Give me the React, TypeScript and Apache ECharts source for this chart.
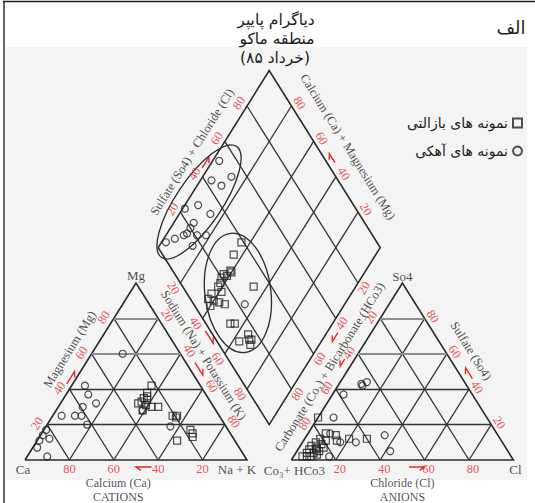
import React, { useEffect, useRef } from 'react';
import * as echarts from 'echarts';

const WIDTH = 535;
const HEIGHT = 503;
// layout of the ternary unit system on the page
const ORIGIN_X = 25;
const ORIGIN_Y = 460;
const SCALE_X = 2.22;
const SCALE_Y = 1.77;
const GAP = 20;

const BASALT = 'نمونه های بازالتی';
const LIMESTONE = 'نمونه های آهکی';
const TICKS = [20, 40, 60, 80];

// Cation triangle samples: [Ca, Mg, Na+K] %
const basaltCations = [
  [22, 42, 36], [26, 38, 36], [27, 36, 37], [29, 35, 36], [28, 34, 38], [31, 33, 36],
  [33, 32, 35], [30, 31, 39], [28, 30, 42], [25, 30, 45], [33, 28, 39], [21, 25, 54],
  [19, 25, 56], [20, 24, 56], [17, 17, 66], [17, 15, 68], [18, 13, 69], [26, 11, 63],
];
const limestoneCations = [
  [26, 60, 14], [52, 42, 6], [53, 37, 10], [52, 32, 16], [59, 30, 11], [71, 25, 4],
  [65, 25, 10], [62, 25, 13], [62, 20, 18], [82, 17, 1], [85, 14, 1], [83, 12, 5],
  [88, 11, 1], [91, 7, 2], [89, 2, 9], [25, 19, 56], [33, 28, 39],
];
// Anion triangle samples: [CO3+HCO3, SO4, Cl] %
const basaltAnions = [
  [76, 24, 0], [68, 12, 20], [60, 12, 28], [77, 15, 8], [73, 14, 13], [81, 12, 7],
  [79, 11, 10], [84, 10, 6], [82, 9, 9], [87, 8, 5], [85, 7, 8], [82, 7, 11],
  [89, 6, 5], [86, 6, 8], [85, 5, 10], [91, 4, 5], [88, 4, 8], [87, 3, 10],
  [92, 2, 6], [90, 2, 8], [94, 2, 4], [74, 11, 15],
];
const limestoneAnions = [
  [47, 43, 10], [47, 42, 11], [44, 44, 12], [58, 37, 5], [69, 24, 7], [51, 14, 35],
  [53, 5, 42], [66, 10, 24], [75, 15, 10], [82, 2, 16], [73, 10, 17],
];
// Diamond samples: [Na+K, SO4+Cl] %
const basaltDiamond = [
  [36, 39], [36, 32], [39, 26], [40, 26], [39, 23], [37, 22], [37, 20], [38, 18],
  [38, 16], [41, 16], [37, 11], [37, 8], [40, 10], [43, 12], [46, 14], [40, 7],
  [54, 32], [54, 11], [56, 13], [65, 16], [67, 15], [69, 14], [63, 10], [68, 16],
];
const limestoneDiamond = [
  [3, 52], [13, 53], [5, 43], [11, 46], [6, 30], [1, 23], [14, 33], [9, 23],
  [9, 20], [9, 17], [14, 21], [18, 25], [5, 10], [2, 5], [15, 16], [8, 15], [55, 23],
];

const RED = '#e8262b';
const INK = '#1c1c1c';
const SERIF = '"Liberation Serif", "DejaVu Serif", serif';
const PERSIAN = '"DejaVu Sans", sans-serif';

const cat = (ca: number, mg: number, na: number) => [na + mg / 2, mg];
const an = (co3: number, so4: number, cl: number) => [100 + GAP + cl + so4 / 2, so4];
const dia = (na: number, sc: number) => [(100 + GAP + sc + na) / 2, 100 + GAP + sc - na];
const off = (p: number[], dx: number, dy: number) => [p[0] + dx / SCALE_X, p[1] - dy / SCALE_Y];

type F = (a: number, b: number, c: number) => number[];
function triOutline(f: F) {
  return [f(100, 0, 0), f(0, 0, 100), f(0, 100, 0), f(100, 0, 0)];
}
function triGrid(f: F, light: boolean) {
  const segs: number[][][] = [];
  TICKS.forEach((v) => {
    const isLight = v >= 60;
    if (isLight === light) segs.push([f(100 - v, v, 0), f(0, v, 100 - v)]);
    if (!light) {
      segs.push([f(100 - v, 0, v), f(0, 100 - v, v)]);
      segs.push([f(v, 0, 100 - v), f(v, 100 - v, 0)]);
    }
  });
  return segs;
}
function diamondGrid() {
  const segs: number[][][] = [];
  TICKS.forEach((v) => {
    segs.push([dia(v, 0), dia(v, 100)]);
    segs.push([dia(0, v), dia(100, v)]);
  });
  return segs;
}
function harpoon(tail: number[], tip: number[], side = 1) {
  const dx = (tail[0] - tip[0]) * SCALE_X;
  const dy = -(tail[1] - tip[1]) * SCALE_Y;
  const len = Math.hypot(dx, dy);
  const ux = dx / len, uy = dy / len;
  const a = side * 0.6;
  const bx = (ux * Math.cos(a) - uy * Math.sin(a)) * 6;
  const by = (ux * Math.sin(a) + uy * Math.cos(a)) * 6;
  return [[tip[0] + bx / SCALE_X, tip[1] - by / SCALE_Y], tip, tail];
}

const arrows = [
  harpoon(off(cat(43, 0, 57), 0, 7), off(cat(50, 0, 50), 0, 7), 1),
  harpoon(off(cat(57, 43, 0), -6, 0), off(cat(50, 50, 0), -6, 0), -1),
  harpoon(off(cat(0, 55, 45), 9, 0), off(cat(0, 48, 52), 9, 0), 1),
  harpoon(off(dia(47, 0), -5, 0), off(dia(54, 0), -5, 0), 1),
  harpoon(off(dia(0, 45), -6, 0), off(dia(0, 51), -6, 0), -1),
  harpoon(off(dia(52, 100), 8, 0), off(dia(47, 100), 8, 0), 1),
  harpoon(off(dia(100, 52), 11, 0), off(dia(100, 47), 11, 0), -1),
  harpoon(off(an(43, 57, 0), -10, 0), off(an(47, 53, 0), -10, 0), -1),
  harpoon(off(an(0, 46, 54), 10, 0), off(an(0, 52, 48), 10, 0), 1),
  harpoon(off(an(47, 0, 53), 0, 7), off(an(40, 0, 60), 0, 7), -1),
];

function textItem(p: number[], text: string, o: any = {}) {
  return {
    value: p,
    label: {
      show: true,
      position: 'inside',
      formatter: text,
      color: o.color ?? INK,
      fontSize: o.size ?? 12.5,
      fontFamily: SERIF,
      rotate: o.rotate ?? 0,
    },
  };
}

function buildLabels() {
  const items: any[] = [];
  TICKS.forEach((v) => {
    const t = String(v);
    items.push(textItem(off(cat(v, 0, 100 - v), 0, 9), t, { color: RED }));
    items.push(textItem(off(cat(100 - v, v, 0), -10, -1), t, { color: RED, rotate: 58 }));
    items.push(textItem(off(cat(0, 100 - v, v), 9, -3), t, { color: RED, rotate: -58 }));
    items.push(textItem(off(dia(v, 0), -7, 5), t, { color: RED, rotate: -58 }));
    items.push(textItem(off(dia(0, v), -8, -3), t, { color: RED, rotate: 58 }));
    items.push(textItem(off(dia(100 - v, 100), 8, -3), t, { color: RED, rotate: -58 }));
    items.push(textItem(off(dia(100, 100 - v), 6, 5), t, { color: RED, rotate: 58 }));
    items.push(textItem(off(an(v, 100 - v, 0), -9, -1), t, { color: RED, rotate: 58 }));
    items.push(textItem(off(an(0, v, 100 - v), 8, -2), t, { color: RED, rotate: -58 }));
    items.push(textItem(off(an(100 - v, 0, v), 4, 9), t, { color: RED }));
  });
  items.push(textItem(off(cat(0, 100, 0), 0, -8), 'Mg', { size: 13 }));
  items.push(textItem(off(cat(100, 0, 0), -2, 9), 'Ca', { size: 13 }));
  items.push(textItem(off(cat(0, 0, 100), -10, 9), 'Na + K', { size: 13 }));
  items.push(textItem(off(an(0, 100, 0), 0, -7), 'So4', { size: 13 }));
  items.push(textItem(off(an(100, 0, 0), 3, 10), 'Co₃+ HCo3', { size: 13 }));
  items.push(textItem(off(an(0, 0, 100), 2, 9), 'Cl', { size: 13 }));
  items.push(textItem(off(cat(58, 0, 42), 0, 23), 'Calcium (Ca)', { size: 12 }));
  items.push(textItem(off(cat(58, 0, 42), 0, 36.5), 'CATIONS', { size: 12 }));
  items.push(textItem(off(an(50, 0, 50), 0, 23), 'Chloride (Cl)', { size: 12 }));
  items.push(textItem(off(an(50, 0, 50), 0, 36.5), 'ANIONS', { size: 12 }));
  items.push(textItem(off(cat(38, 62, 0), -24, -1), 'Magnesium (Mg)', { size: 12.5, rotate: 58 }));
  items.push(textItem(off(cat(0, 58, 42), 21, -2), 'Sodium (Na) + Potassium (K)', { size: 12.5, rotate: -58 }));
  items.push(textItem(off(dia(0, 54), -26, 0), 'Sulfate (So4) + Chloride (Cl)', { size: 12.5, rotate: 58 }));
  items.push(textItem(off(dia(43, 100), 31, 0), 'Calcium (Ca) + Magnesium (Mg)', { size: 12.5, rotate: -58 }));
  items.push(textItem(off(an(47.5, 52.5, 0), -20, 0), 'Carbonate (Co₃) + Bicarbonate (HCo3)', { size: 12.5, rotate: 58 }));
  items.push(textItem(off(an(0, 61.6, 38.4), 26, 0), 'Sulfate (So4)', { size: 12.5, rotate: -58 }));
  return items;
}

const ellipses = [
  { center: [5.5, 31.3], rx: 67, ry: 23, rotationDeg: 56 },
  { center: [48.7, 23.1], rx: 33, ry: 60, rotationDeg: 7 },
];

function markerSeries(name: string, symbol: string, data: number[][]) {
  return {
    type: 'scatter',
    name,
    symbol,
    symbolSize: 7,
    silent: true,
    clip: false,
    itemStyle: { color: 'rgba(0,0,0,0)', borderColor: '#222', borderWidth: 1.2 },
    data,
    z: 4,
  };
}

export default function App() {
  const ref = useRef<HTMLDivElement>(null);
  useEffect(() => {
    const chart = echarts.init(ref.current!, null, { renderer: 'svg' });
    const lineSeries = (data: number[][][], color: string, width: number, polyline = false) => ({
      type: 'lines',
      coordinateSystem: 'cartesian2d',
      polyline,
      silent: true,
      lineStyle: { color, width, opacity: 1 },
      data: data.map((coords) => ({ coords })),
      z: 2,
    });
    const option: any = {
      animation: false,
      backgroundColor: '#ffffff',
      grid: { left: 0, top: 0, right: 0, bottom: 0 },
      xAxis: { type: 'value', min: -ORIGIN_X / SCALE_X, max: (WIDTH - ORIGIN_X) / SCALE_X, show: false },
      yAxis: { type: 'value', min: -(HEIGHT - ORIGIN_Y) / SCALE_Y, max: ORIGIN_Y / SCALE_Y, show: false },
      legend: {
        orient: 'vertical',
        right: 7,
        top: 111,
        align: 'right',
        itemWidth: 9,
        itemHeight: 9,
        itemGap: 14,
        selectedMode: false,
        textStyle: { fontFamily: PERSIAN, fontSize: 14, color: INK },
        data: [{ name: BASALT, icon: 'rect' }, { name: LIMESTONE, icon: 'circle' }],
      },
      series: [
        lineSeries([triOutline(cat), triOutline(an), [dia(0, 0), dia(100, 0), dia(100, 100), dia(0, 100), dia(0, 0)]], '#2a2a2a', 1.6, true),
        lineSeries([...triGrid(cat, false), ...triGrid(an, false), ...diamondGrid()], '#333333', 1.3),
        lineSeries([...triGrid(cat, true), ...triGrid(an, true)], '#8f8f8f', 1.8),
        lineSeries(arrows, RED, 1.4, true),
        markerSeries(BASALT, 'rect', basaltCations.map((r) => cat(r[0], r[1], r[2]))),
        markerSeries(BASALT, 'rect', basaltAnions.map((r) => an(r[0], r[1], r[2]))),
        markerSeries(BASALT, 'rect', basaltDiamond.map((r) => dia(r[0], r[1]))),
        markerSeries(LIMESTONE, 'circle', limestoneCations.map((r) => cat(r[0], r[1], r[2]))),
        markerSeries(LIMESTONE, 'circle', limestoneAnions.map((r) => an(r[0], r[1], r[2]))),
        markerSeries(LIMESTONE, 'circle', limestoneDiamond.map((r) => dia(r[0], r[1]))),
        {
          type: 'scatter',
          symbol: 'circle',
          symbolSize: 1,
          silent: true,
          clip: false,
          itemStyle: { color: 'rgba(0,0,0,0)' },
          data: buildLabels(),
          z: 6,
        },
      ],
    };
    chart.setOption(option);

    const ellipseEls = ellipses.map((e) => {
      const c = chart.convertToPixel({ gridIndex: 0 }, dia(e.center[0], e.center[1])) as number[];
      return {
        type: 'ellipse',
        x: c[0],
        y: c[1],
        rotation: (e.rotationDeg * Math.PI) / 180,
        shape: { cx: 0, cy: 0, rx: e.rx, ry: e.ry },
        style: { fill: 'none', stroke: '#2a2a2a', lineWidth: 1.3 },
        silent: true,
        z: 5,
      };
    });
    const titleText = (text: string, x: number, y: number, size: number) => ({
      type: 'text',
      x,
      y,
      silent: true,
      z: 6,
      style: { text, fontSize: size, fontFamily: PERSIAN, fill: INK, textAlign: 'center', textVerticalAlign: 'middle' },
    });
    chart.setOption({
      graphic: [
        { type: 'rect', shape: { x: 5, y: 47, width: 522, height: 433 }, style: { fill: '#f4f4f4' }, silent: true, z: -10 },
        { type: 'line', shape: { x1: 3, y1: 1.5, x2: 535, y2: 1.5 }, style: { stroke: '#222', lineWidth: 1.6 }, silent: true },
        { type: 'line', shape: { x1: 4, y1: 1, x2: 4, y2: 503 }, style: { stroke: '#222', lineWidth: 1.4 }, silent: true },
        titleText('دیاگرام پایپر', 276, 20, 15.5),
        titleText('منطقه ماکو', 277, 39, 15.5),
        titleText('(۸۵ خرداد)', 275, 58, 15.5),
        titleText('الف', 511, 27, 18),
        ...ellipseEls,
      ],
    });
    return () => chart.dispose();
  }, []);
  return (
    <div
      ref={ref}
      style={{ position: 'fixed', left: 0, top: 0, width: WIDTH, height: HEIGHT, background: '#fff' }}
    />
  );
}
